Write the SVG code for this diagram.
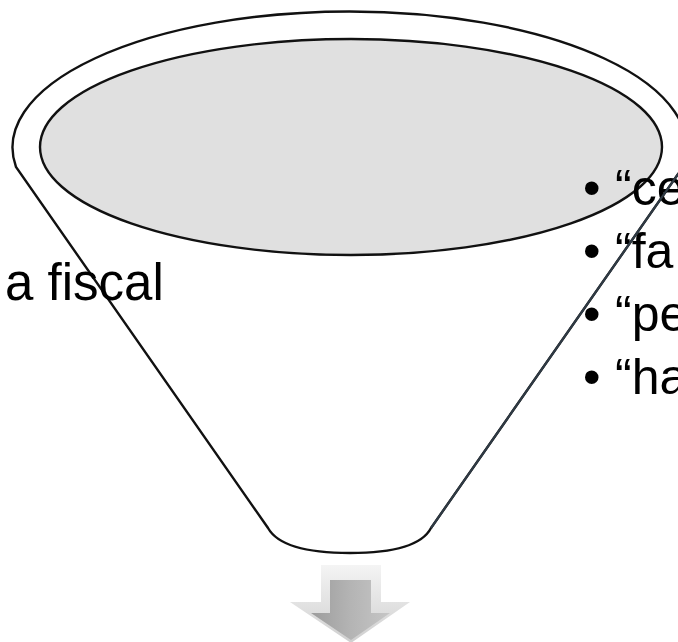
<svg xmlns="http://www.w3.org/2000/svg" width="678" height="642" viewBox="0 0 678 642">
  <style>
    .txt { font-family: "Liberation Sans", Arial, sans-serif; font-size: 51px; fill: #000; }
    .blt { font-family: "Liberation Sans", Arial, sans-serif; font-size: 50px; fill: #000; }
    .line { stroke: #111; stroke-width: 2.4; }
  </style>
  <defs>
    <linearGradient id="face" x1="0" y1="0" x2="1" y2="0">
      <stop offset="0" stop-color="#9c9c9c"/>
      <stop offset="0.5" stop-color="#b4b4b4"/>
      <stop offset="1" stop-color="#c6c6c6"/>
    </linearGradient>
    <linearGradient id="bevel" x1="0" y1="0" x2="0" y2="1">
      <stop offset="0" stop-color="#f4f4f4"/>
      <stop offset="1" stop-color="#cfcfcf"/>
    </linearGradient>
  </defs>
  <rect width="678" height="642" fill="#fff"/>

  <g id="funnel">
    <path class="line" fill="#fff" d="M16,167 A337,136 0 1 1 683,167 L431,528 Q418,553 350,553 Q282,553 268,528 Z"/>
    <ellipse class="line" cx="351" cy="147" rx="311" ry="108" fill="#e0e0e0"/>
  </g>

  <g id="label-left">
    <text class="txt" x="5" y="300">a fiscal</text>
  </g>

  <g id="bullets">
    <text class="blt" x="583" y="205">•<tspan x="615">“ce</tspan></text>
    <text class="blt" x="583" y="268">•<tspan x="615">“fa</tspan></text>
    <text class="blt" x="583" y="331">•<tspan x="615">“pe</tspan></text>
    <text class="blt" x="583" y="394">•<tspan x="615">“ha</tspan></text>
  </g>

  <g id="funnel-edge-over">
    <line x1="683" y1="167" x2="431" y2="528" stroke="#2f3a44" stroke-width="2.2"/>
  </g>

  <g id="arrow">
    <polygon points="321,565 381,565 381,602 410,602 351,643 290,602 321,602" fill="url(#bevel)"/>
    <polygon points="330,580 371,580 371,613 390,613 351,640 311,613 330,613" fill="url(#face)"/>
  </g>
</svg>
